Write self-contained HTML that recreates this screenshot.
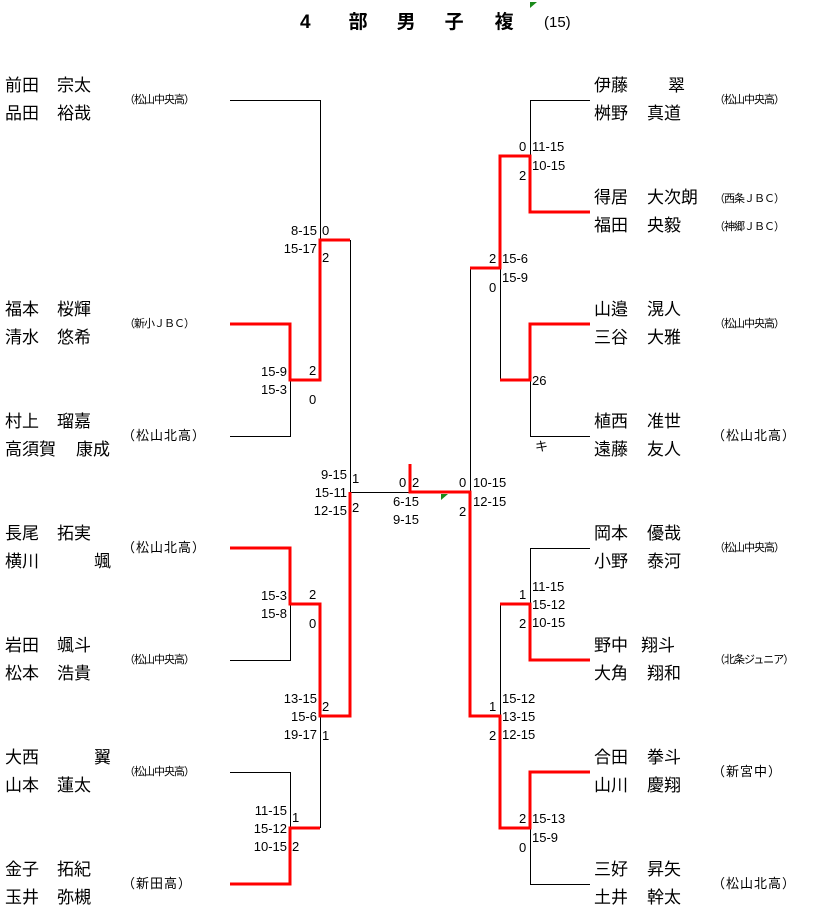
<!DOCTYPE html>
<html><head><meta charset="utf-8">
<style>
body{margin:0;background:#fff;}
#w{position:relative;width:821px;height:913px;overflow:hidden;font-family:"Liberation Sans","Noto Sans CJK JP",sans-serif;color:#000;}
.n{position:absolute;font-size:17px;line-height:20px;white-space:nowrap;}
.s{position:absolute;font-size:11px;line-height:14px;white-space:nowrap;letter-spacing:-1px;}
.s2{position:absolute;font-size:13px;line-height:16px;white-space:nowrap;letter-spacing:1px;}
.c{position:absolute;font-size:13px;line-height:16px;white-space:nowrap;}
.r{text-align:right;}
svg{position:absolute;left:0;top:0;}
</style></head><body><div id="w">
<svg width="821" height="913">
<g stroke="#000" stroke-width="1" fill="none">
<polyline points="230,100.5 320.5,100.5 320.5,240"/>
<polyline points="230,436.5 290.5,436.5 290.5,380"/>
<polyline points="350.5,240 350.5,492.5 410,492.5"/>
<polyline points="230,660.5 290.5,660.5 290.5,604"/>
<polyline points="230,772.5 290.5,772.5 290.5,828"/>
<line x1="320.5" y1="716" x2="320.5" y2="828"/>
<polyline points="590,100.5 530.5,100.5 530.5,156"/>
<polyline points="470.5,268 470.5,492"/>
<polyline points="500.5,268 500.5,380"/>
<polyline points="590,436.5 530.5,436.5 530.5,380"/>
<polyline points="590,548.5 530.5,548.5 530.5,604"/>
<line x1="500.5" y1="604" x2="500.5" y2="716"/>
<polyline points="590,884.5 530.5,884.5 530.5,828"/>
</g>
<g stroke="#f00" stroke-width="3" fill="none">
<polyline points="230,324 290,324 290,380 320,380 320,240 350,240"/>
<polyline points="230,548 290,548 290,604 320,604 320,716 350,716 350,492"/>
<polyline points="230,884 290,884 290,828 320,828"/>
<polyline points="410,464 410,492 470,492 470,716 500,716 500,828 530,828 530,772 590,772"/>
<polyline points="590,212 530,212 530,156 500,156 500,268 470,268"/>
<polyline points="590,324 530,324 530,380 500,380"/>
<polyline points="590,660 530,660 530,604 500,604"/>
</g>
<polygon points="530,2 537,2 530,8" fill="#1a8a1a"/>
<polygon points="441,494 448,494 441,500" fill="#1a8a1a"/>
</svg>
<div style="position:absolute;left:300px;top:12px;font-size:19px;font-weight:bold;line-height:22px;white-space:nowrap;">4<span style="display:inline-block;width:38px"></span>部<span style="display:inline-block;width:29px"></span>男<span style="display:inline-block;width:29px"></span>子<span style="display:inline-block;width:31px"></span>複</div>
<div style="position:absolute;left:544px;top:13px;font-size:15px;line-height:20px;">(15)</div>

<div class="n" style="left:5px;top:76px">前田</div><div class="n" style="left:57px;top:76px">宗太</div>
<div class="n" style="left:5px;top:104px">品田</div><div class="n" style="left:57px;top:104px">裕哉</div>
<div class="s" style="left:124px;top:93px">（松山中央高）</div>
<div class="n" style="left:5px;top:300px">福本</div><div class="n" style="left:57px;top:300px">桜輝</div>
<div class="n" style="left:5px;top:328px">清水</div><div class="n" style="left:57px;top:328px">悠希</div>
<div class="s" style="left:124px;top:317px">（新小ＪＢＣ）</div>
<div class="n" style="left:5px;top:412px">村上</div><div class="n" style="left:57px;top:412px">瑠嘉</div>
<div class="n" style="left:5px;top:440px">高須賀</div><div class="n" style="left:76px;top:440px">康成</div>
<div class="s2" style="left:122px;top:428px">（松山北高）</div>
<div class="n" style="left:5px;top:524px">長尾</div><div class="n" style="left:57px;top:524px">拓実</div>
<div class="n" style="left:5px;top:552px">横川</div><div class="n" style="left:94px;top:552px">颯</div>
<div class="s2" style="left:122px;top:540px">（松山北高）</div>
<div class="n" style="left:5px;top:636px">岩田</div><div class="n" style="left:57px;top:636px">颯斗</div>
<div class="n" style="left:5px;top:664px">松本</div><div class="n" style="left:57px;top:664px">浩貴</div>
<div class="s" style="left:124px;top:653px">（松山中央高）</div>
<div class="n" style="left:5px;top:748px">大西</div><div class="n" style="left:94px;top:748px">翼</div>
<div class="n" style="left:5px;top:776px">山本</div><div class="n" style="left:57px;top:776px">蓮太</div>
<div class="s" style="left:124px;top:765px">（松山中央高）</div>
<div class="n" style="left:5px;top:860px">金子</div><div class="n" style="left:57px;top:860px">拓紀</div>
<div class="n" style="left:5px;top:888px">玉井</div><div class="n" style="left:57px;top:888px">弥槻</div>
<div class="s2" style="left:122px;top:876px">（新田高）</div>

<div class="n" style="left:594px;top:76px">伊藤</div><div class="n" style="left:668px;top:76px">翠</div>
<div class="n" style="left:594px;top:104px">桝野</div><div class="n" style="left:647px;top:104px">真道</div>
<div class="s" style="left:714px;top:93px">（松山中央高）</div>
<div class="n" style="left:594px;top:188px">得居</div><div class="n" style="left:647px;top:188px">大次朗</div>
<div class="n" style="left:594px;top:216px">福田</div><div class="n" style="left:647px;top:216px">央毅</div>
<div class="s" style="left:714px;top:192px">（西条ＪＢＣ）</div>
<div class="s" style="left:714px;top:220px">（神郷ＪＢＣ）</div>
<div class="n" style="left:594px;top:300px">山邉</div><div class="n" style="left:647px;top:300px">滉人</div>
<div class="n" style="left:594px;top:328px">三谷</div><div class="n" style="left:647px;top:328px">大雅</div>
<div class="s" style="left:714px;top:317px">（松山中央高）</div>
<div class="n" style="left:594px;top:412px">植西</div><div class="n" style="left:647px;top:412px">准世</div>
<div class="n" style="left:594px;top:440px">遠藤</div><div class="n" style="left:647px;top:440px">友人</div>
<div class="s2" style="left:712px;top:428px">（松山北高）</div>
<div class="n" style="left:594px;top:524px">岡本</div><div class="n" style="left:647px;top:524px">優哉</div>
<div class="n" style="left:594px;top:552px">小野</div><div class="n" style="left:647px;top:552px">泰河</div>
<div class="s" style="left:714px;top:541px">（松山中央高）</div>
<div class="n" style="left:594px;top:636px">野中</div><div class="n" style="left:641px;top:636px">翔斗</div>
<div class="n" style="left:594px;top:664px">大角</div><div class="n" style="left:647px;top:664px">翔和</div>
<div class="s" style="left:714px;top:653px">（北条ジュニア）</div>
<div class="n" style="left:594px;top:748px">合田</div><div class="n" style="left:647px;top:748px">拳斗</div>
<div class="n" style="left:594px;top:776px">山川</div><div class="n" style="left:647px;top:776px">慶翔</div>
<div class="s2" style="left:712px;top:764px">（新宮中）</div>
<div class="n" style="left:594px;top:860px">三好</div><div class="n" style="left:647px;top:860px">昇矢</div>
<div class="n" style="left:594px;top:888px">土井</div><div class="n" style="left:647px;top:888px">幹太</div>
<div class="s2" style="left:712px;top:876px">（松山北高）</div>

<div class="c r" style="right:504px;top:223px">8-15</div><div class="c" style="left:322px;top:223px">0</div>
<div class="c r" style="right:504px;top:241px">15-17</div><div class="c" style="left:322px;top:250px">2</div>
<div class="c r" style="right:534px;top:364px">15-9</div><div class="c r" style="right:534px;top:382px">15-3</div>
<div class="c" style="left:309px;top:363px">2</div><div class="c" style="left:309px;top:392px">0</div>
<div class="c r" style="right:474px;top:467px">9-15</div><div class="c" style="left:352px;top:471px">1</div>
<div class="c r" style="right:474px;top:485px">15-11</div>
<div class="c r" style="right:474px;top:503px">12-15</div><div class="c" style="left:352px;top:500px">2</div>
<div class="c" style="left:399px;top:475px">0</div><div class="c" style="left:412px;top:475px">2</div>
<div class="c" style="left:393px;top:494px">6-15</div><div class="c" style="left:393px;top:512px">9-15</div>
<div class="c" style="left:459px;top:475px">0</div><div class="c" style="left:473px;top:475px">10-15</div>
<div class="c" style="left:473px;top:494px">12-15</div><div class="c" style="left:459px;top:504px">2</div>
<div class="c r" style="right:534px;top:588px">15-3</div><div class="c r" style="right:534px;top:606px">15-8</div>
<div class="c" style="left:309px;top:587px">2</div><div class="c" style="left:309px;top:616px">0</div>
<div class="c r" style="right:504px;top:691px">13-15</div><div class="c r" style="right:504px;top:709px">15-6</div>
<div class="c r" style="right:504px;top:727px">19-17</div>
<div class="c" style="left:322px;top:699px">2</div><div class="c" style="left:322px;top:728px">1</div>
<div class="c r" style="right:534px;top:803px">11-15</div><div class="c r" style="right:534px;top:821px">15-12</div>
<div class="c r" style="right:534px;top:839px">10-15</div>
<div class="c" style="left:292px;top:810px">1</div><div class="c" style="left:292px;top:839px">2</div>

<div class="c" style="left:519px;top:139px">0</div><div class="c" style="left:532px;top:139px">11-15</div>
<div class="c" style="left:532px;top:158px">10-15</div><div class="c" style="left:519px;top:168px">2</div>
<div class="c" style="left:489px;top:251px">2</div><div class="c" style="left:502px;top:251px">15-6</div>
<div class="c" style="left:502px;top:270px">15-9</div><div class="c" style="left:489px;top:280px">0</div>
<div class="c" style="left:532px;top:373px">26</div>
<div class="c" style="left:535px;top:439px">キ</div>
<div class="c" style="left:532px;top:579px">11-15</div><div class="c" style="left:519px;top:587px">1</div>
<div class="c" style="left:532px;top:597px">15-12</div><div class="c" style="left:519px;top:616px">2</div>
<div class="c" style="left:532px;top:615px">10-15</div>
<div class="c" style="left:502px;top:691px">15-12</div><div class="c" style="left:489px;top:699px">1</div>
<div class="c" style="left:502px;top:709px">13-15</div><div class="c" style="left:489px;top:728px">2</div>
<div class="c" style="left:502px;top:727px">12-15</div>
<div class="c" style="left:519px;top:811px">2</div><div class="c" style="left:532px;top:811px">15-13</div>
<div class="c" style="left:532px;top:830px">15-9</div><div class="c" style="left:519px;top:840px">0</div>
</div></body></html>
